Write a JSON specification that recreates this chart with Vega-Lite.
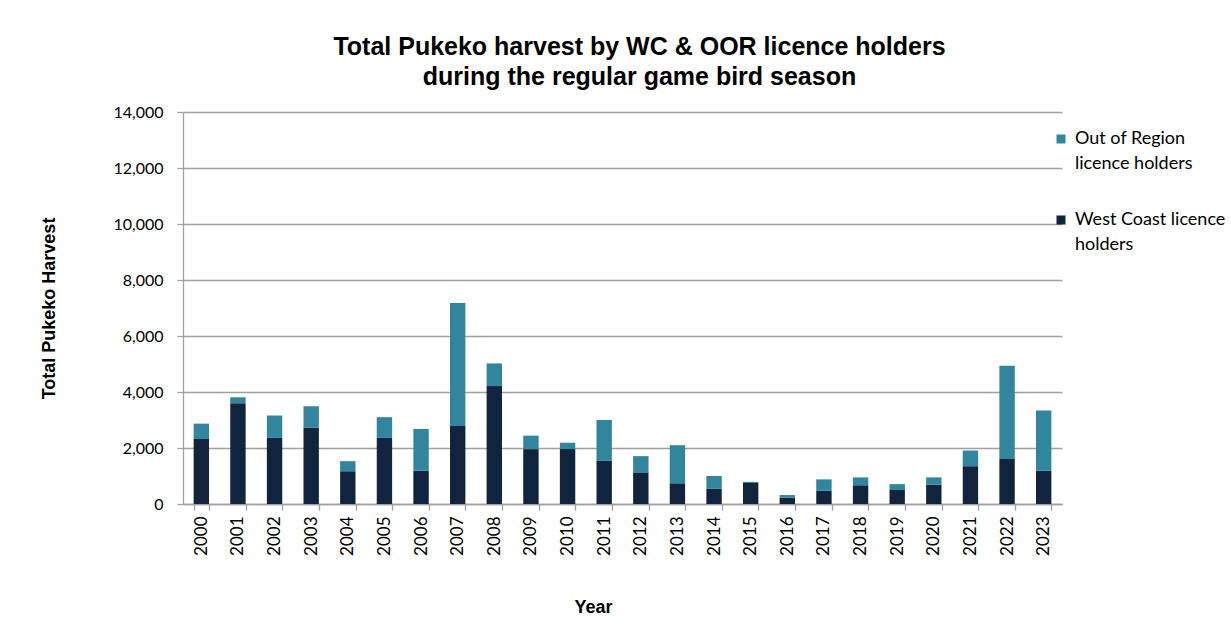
{
  "$schema": "https://vega.github.io/schema/vega-lite/v6.json",
  "width": 879,
  "height": 392,
  "autosize": {"type": "none"},
  "padding": {"left": 183, "top": 112, "right": 169, "bottom": 133},
  "background": "white",
  "title": {
    "text": ["Total Pukeko harvest by WC & OOR licence holders", "during the regular game bird season"],
    "font": "Liberation Sans",
    "fontSize": 25,
    "fontWeight": "bold",
    "lineHeight": 30,
    "color": "#000000",
    "anchor": "middle",
    "dx": 17,
    "offset": 14
  },
  "data": {
    "values": [
      {"year": "2000", "series": "West Coast licence holders", "value": 2320},
      {"year": "2000", "series": "Out of Region licence holders", "value": 550},
      {"year": "2001", "series": "West Coast licence holders", "value": 3600},
      {"year": "2001", "series": "Out of Region licence holders", "value": 210},
      {"year": "2002", "series": "West Coast licence holders", "value": 2360},
      {"year": "2002", "series": "Out of Region licence holders", "value": 800},
      {"year": "2003", "series": "West Coast licence holders", "value": 2730},
      {"year": "2003", "series": "Out of Region licence holders", "value": 760},
      {"year": "2004", "series": "West Coast licence holders", "value": 1170},
      {"year": "2004", "series": "Out of Region licence holders", "value": 360},
      {"year": "2005", "series": "West Coast licence holders", "value": 2360},
      {"year": "2005", "series": "Out of Region licence holders", "value": 740},
      {"year": "2006", "series": "West Coast licence holders", "value": 1190},
      {"year": "2006", "series": "Out of Region licence holders", "value": 1490},
      {"year": "2007", "series": "West Coast licence holders", "value": 2790},
      {"year": "2007", "series": "Out of Region licence holders", "value": 4390},
      {"year": "2008", "series": "West Coast licence holders", "value": 4210},
      {"year": "2008", "series": "Out of Region licence holders", "value": 810},
      {"year": "2009", "series": "West Coast licence holders", "value": 1960},
      {"year": "2009", "series": "Out of Region licence holders", "value": 480},
      {"year": "2010", "series": "West Coast licence holders", "value": 1960},
      {"year": "2010", "series": "Out of Region licence holders", "value": 230},
      {"year": "2011", "series": "West Coast licence holders", "value": 1540},
      {"year": "2011", "series": "Out of Region licence holders", "value": 1460},
      {"year": "2012", "series": "West Coast licence holders", "value": 1130},
      {"year": "2012", "series": "Out of Region licence holders", "value": 580},
      {"year": "2013", "series": "West Coast licence holders", "value": 740},
      {"year": "2013", "series": "Out of Region licence holders", "value": 1360},
      {"year": "2014", "series": "West Coast licence holders", "value": 540},
      {"year": "2014", "series": "Out of Region licence holders", "value": 460},
      {"year": "2015", "series": "West Coast licence holders", "value": 750},
      {"year": "2015", "series": "Out of Region licence holders", "value": 40},
      {"year": "2016", "series": "West Coast licence holders", "value": 230},
      {"year": "2016", "series": "Out of Region licence holders", "value": 90},
      {"year": "2017", "series": "West Coast licence holders", "value": 480},
      {"year": "2017", "series": "Out of Region licence holders", "value": 400},
      {"year": "2018", "series": "West Coast licence holders", "value": 670},
      {"year": "2018", "series": "Out of Region licence holders", "value": 280},
      {"year": "2019", "series": "West Coast licence holders", "value": 500},
      {"year": "2019", "series": "Out of Region licence holders", "value": 210},
      {"year": "2020", "series": "West Coast licence holders", "value": 690},
      {"year": "2020", "series": "Out of Region licence holders", "value": 260},
      {"year": "2021", "series": "West Coast licence holders", "value": 1350},
      {"year": "2021", "series": "Out of Region licence holders", "value": 560},
      {"year": "2022", "series": "West Coast licence holders", "value": 1610},
      {"year": "2022", "series": "Out of Region licence holders", "value": 3330},
      {"year": "2023", "series": "West Coast licence holders", "value": 1190},
      {"year": "2023", "series": "Out of Region licence holders", "value": 2150}
    ]
  },
  "mark": {"type": "bar"},
  "encoding": {
    "x": {
      "field": "year",
      "type": "ordinal",
      "scale": {"paddingInner": 0.58, "paddingOuter": 0.29},
      "axis": {
        "title": "Year",
        "titleFont": "Liberation Sans",
        "titleFontSize": 18,
        "titleFontWeight": "bold",
        "titleColor": "#000000",
        "titleX": 410,
        "titleY": 103,
        "titleBaseline": "middle",
        "labelAngle": -90,
        "labelAlign": "right",
        "labelBaseline": "middle",
        "labelFont": "Lato",
        "labelFontSize": 17,
        "labelColor": "#000000",
        "labelPadding": 6,
        "tickBand": "extent",
        "tickSize": 6,
        "tickColor": "#a0a0a0",
        "tickWidth": 1.3,
        "domainColor": "#a0a0a0",
        "domainWidth": 1.3
      }
    },
    "y": {
      "field": "value",
      "type": "quantitative",
      "stack": "zero",
      "scale": {"domain": [0, 14000], "nice": false},
      "axis": {
        "title": "Total Pukeko Harvest",
        "titleFont": "Liberation Sans",
        "titleFontSize": 18,
        "titleFontWeight": "bold",
        "titleColor": "#000000",
        "titleX": -129,
        "titleY": 196,
        "titleAlign": "center",
        "titleBaseline": "alphabetic",
        "values": [0, 2000, 4000, 6000, 8000, 10000, 12000, 14000],
        "labelOverlap": false,
        "format": ",d",
        "labelFont": "Lato",
        "labelFontSize": 16,
        "labelColor": "#000000",
        "labelPadding": 14,
        "tickSize": 6,
        "tickColor": "#a0a0a0",
        "tickWidth": 1.3,
        "gridColor": "#a0a0a0",
        "gridWidth": 1.3,
        "domainColor": "#a0a0a0",
        "domainWidth": 1.3
      }
    },
    "color": {
      "field": "series",
      "type": "nominal",
      "scale": {
        "domain": ["Out of Region licence holders", "West Coast licence holders"],
        "range": ["#31859C", "#10243E"]
      },
      "legend": {
        "title": null,
        "orient": "none",
        "legendX": 869,
        "legendY": 18,
        "symbolType": "square",
        "symbolSize": 81,
        "symbolStrokeWidth": 0,
        "labelFont": "Lato",
        "labelFontSize": 18,
        "labelColor": "#000000",
        "labelBaseline": "middle",
        "labelOffset": 5,
        "labelLimit": 200,
        "rowPadding": 38,
        "labelExpr": "datum.label == 'Out of Region licence holders' ? ['Out of Region', 'licence holders'] : ['West Coast licence', 'holders']"
      }
    },
    "order": {"field": "series", "sort": "descending"}
  },
  "config": {
    "view": {"stroke": null},
    "style": {"guide-label": {"lineHeight": 25}}
  }
}
